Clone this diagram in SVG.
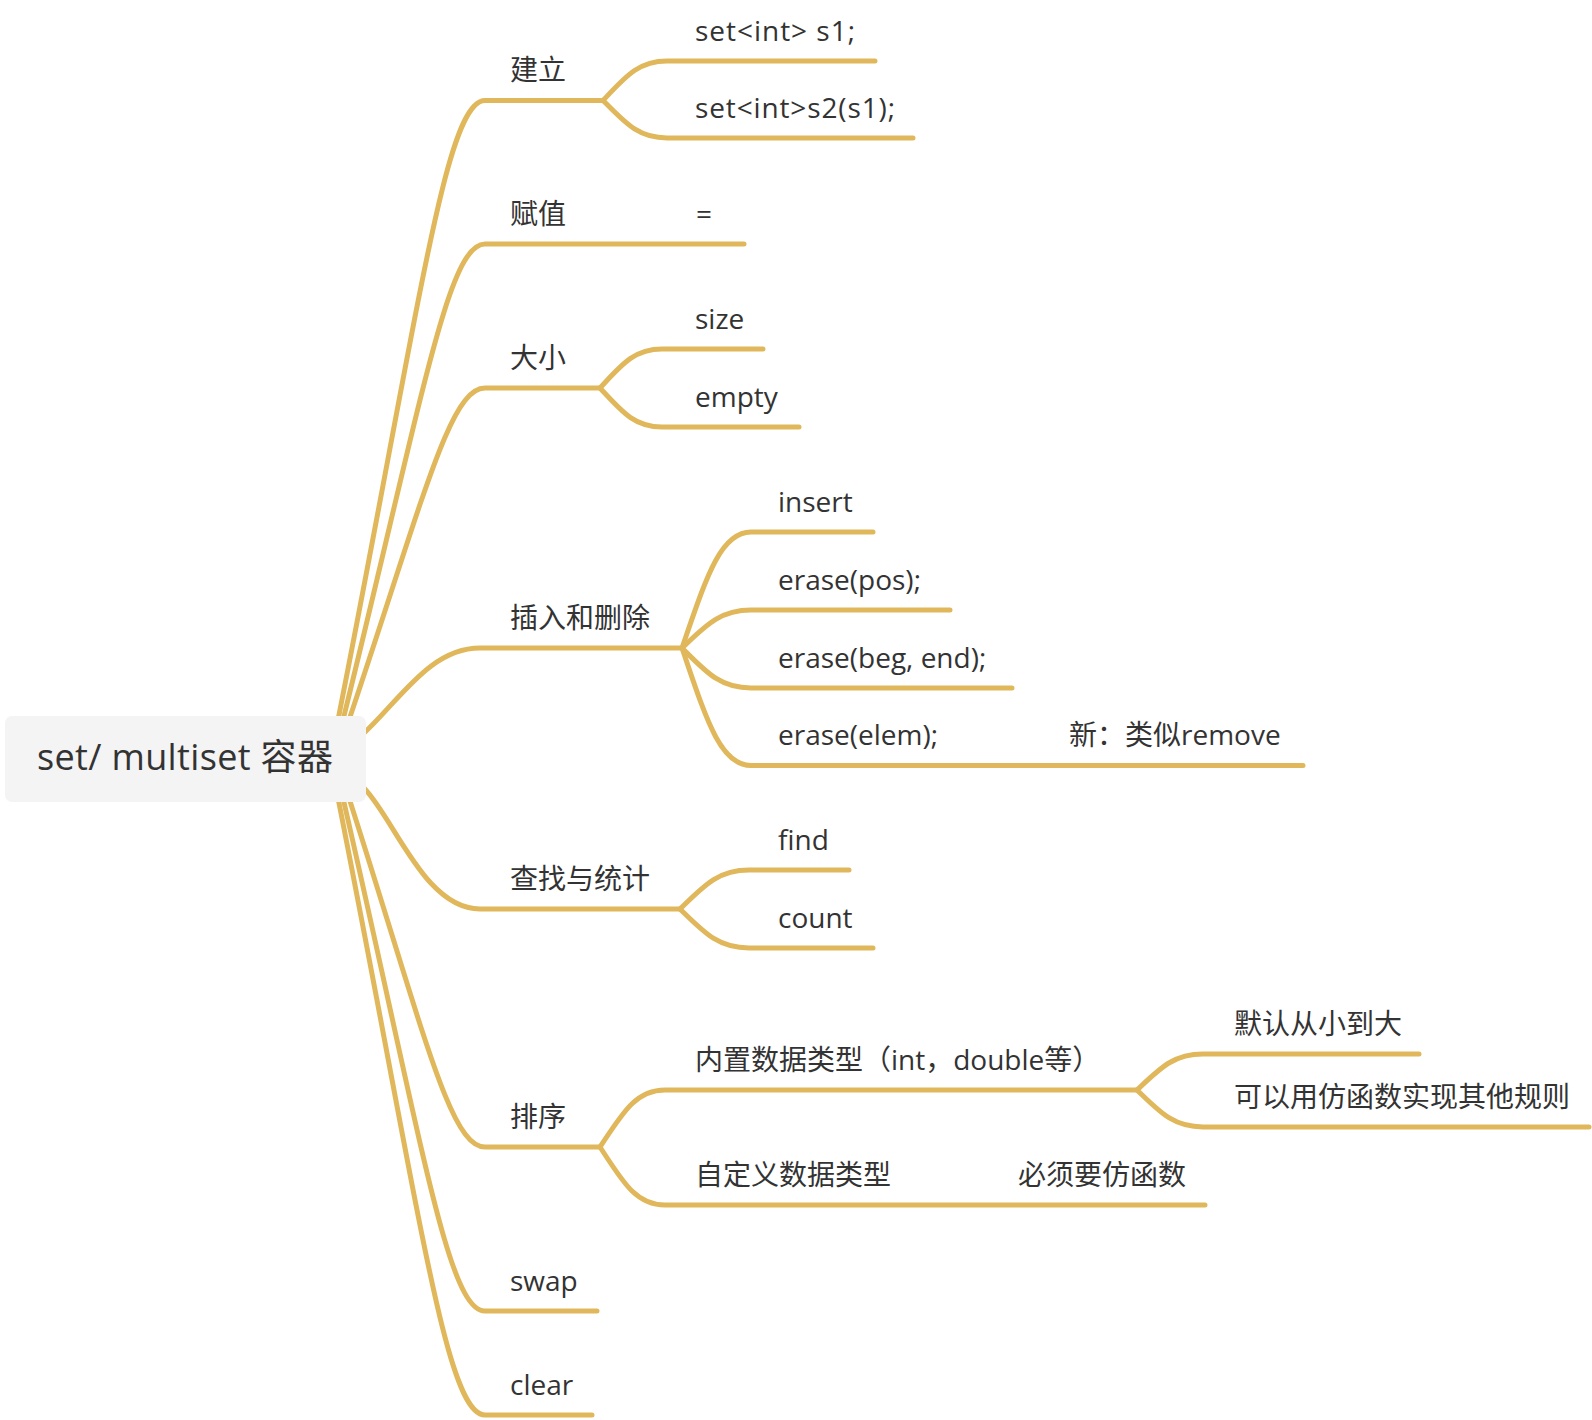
<svg xmlns="http://www.w3.org/2000/svg" width="1592" height="1420" viewBox="0 0 1592 1420">
<style>
.c{fill:none;stroke:#E0B85B;stroke-width:5;stroke-linecap:round;stroke-linejoin:round}
.t{font-family:"Open Sans","Noto Sans CJK SC",sans-serif;font-size:28px;fill:#333333}
.r{font-family:"Open Sans","Noto Sans CJK SC",sans-serif;font-size:36px;fill:#333333}
.box{fill:#F4F4F4}
</style>
<rect width="1592" height="1420" fill="#FFFFFF"/>
<g id="connectors">
<path class="c" d="M338,720 C421,299 446,100.5 485,100.5 L603,100.5"/>
<path class="c" d="M343,720 C423,396 448,244 485,244 L744,244"/>
<path class="c" d="M349,720 C425,494 450,388 485,388 L600,388"/>
<path class="c" d="M362,735 C400,700 430,648 480,648 L682,648"/>
<path class="c" d="M364,788 C395,820 425,909 480,909 L680,909"/>
<path class="c" d="M349,798 C425,1035 450,1147 485,1147 L600,1147"/>
<path class="c" d="M343,798 C423,1147 448,1311 485,1311 L597,1311"/>
<path class="c" d="M338,798 C421,1218 446,1415 485,1415 L592,1415"/>
<path class="c" d="M603,100.5 C625.4,76.8 638.2,61 667,61 L875,61"/>
<path class="c" d="M603,100.5 C625.4,123 638.2,138 667,138 L913,138"/>
<path class="c" d="M600,388 C621.7,364.6 634.1,349 662,349 L763,349"/>
<path class="c" d="M600,388 C621.7,411.4 634.1,427 662,427 L799,427"/>
<path class="c" d="M682,648 C706,578.4 720,532 751,532 L873,532"/>
<path class="c" d="M682,648 C706,625.2 720,610 751,610 L950,610"/>
<path class="c" d="M682,648 C706,672 720,688 751,688 L1012,688"/>
<path class="c" d="M682,648 C706,718.5 720,765.5 751,765.5 L1303,765.5"/>
<path class="c" d="M680,909 C704,885.6 718,870 749,870 L849,870"/>
<path class="c" d="M680,909 C704,932.4 718,948 749,948 L873,948"/>
<path class="c" d="M600,1147 C622.75,1112.8 635.75,1090 665,1090 L1137,1090"/>
<path class="c" d="M600,1147 C622.75,1181.8 635.75,1205 665,1205 L1205,1205"/>
<path class="c" d="M1137,1090 C1160,1068.4 1173.3,1054 1203,1054 L1419,1054"/>
<path class="c" d="M1137,1090 C1160,1112.2 1173.3,1127 1203,1127 L1589,1127"/>
</g>
<g id="root">
<rect class="box" x="5" y="716" width="361" height="86" rx="7"/>
<text class="r" x="37" y="770" textLength="296">set/ multiset 容器</text>
</g>
<g id="n-jianli"><text class="t" x="510" y="80">建立</text></g>
<g id="n-s1"><text class="t" x="695" y="41" textLength="160">set&lt;int&gt; s1;</text></g>
<g id="n-s2"><text class="t" x="695" y="118" textLength="200">set&lt;int&gt;s2(s1);</text></g>
<g id="n-fuzhi"><text class="t" x="510" y="224">赋值</text></g>
<g id="n-eq"><text class="t" x="696" y="224">=</text></g>
<g id="n-daxiao"><text class="t" x="510" y="368">大小</text></g>
<g id="n-size"><text class="t" x="695" y="329">size</text></g>
<g id="n-empty"><text class="t" x="695" y="407">empty</text></g>
<g id="n-charu"><text class="t" x="510" y="628">插入和删除</text></g>
<g id="n-insert"><text class="t" x="778" y="512">insert</text></g>
<g id="n-pos"><text class="t" x="778" y="590">erase(pos);</text></g>
<g id="n-beg"><text class="t" x="778" y="668">erase(beg, end);</text></g>
<g id="n-elem"><text class="t" x="778" y="745">erase(elem);</text></g>
<g id="n-remove"><text class="t" x="1069" y="745">新：类似remove</text></g>
<g id="n-chazhao"><text class="t" x="510" y="889">查找与统计</text></g>
<g id="n-find"><text class="t" x="778" y="850">find</text></g>
<g id="n-count"><text class="t" x="778" y="928">count</text></g>
<g id="n-paixu"><text class="t" x="510" y="1127">排序</text></g>
<g id="n-neizhi"><text class="t" x="695" y="1070">内置数据类型（int，double等）</text></g>
<g id="n-moren"><text class="t" x="1234" y="1034">默认从小到大</text></g>
<g id="n-keyi"><text class="t" x="1234" y="1107">可以用仿函数实现其他规则</text></g>
<g id="n-zidingyi"><text class="t" x="695" y="1185">自定义数据类型</text></g>
<g id="n-bixu"><text class="t" x="1018" y="1185">必须要仿函数</text></g>
<g id="n-swap"><text class="t" x="510" y="1291">swap</text></g>
<g id="n-clear"><text class="t" x="510" y="1395">clear</text></g>
</svg>
